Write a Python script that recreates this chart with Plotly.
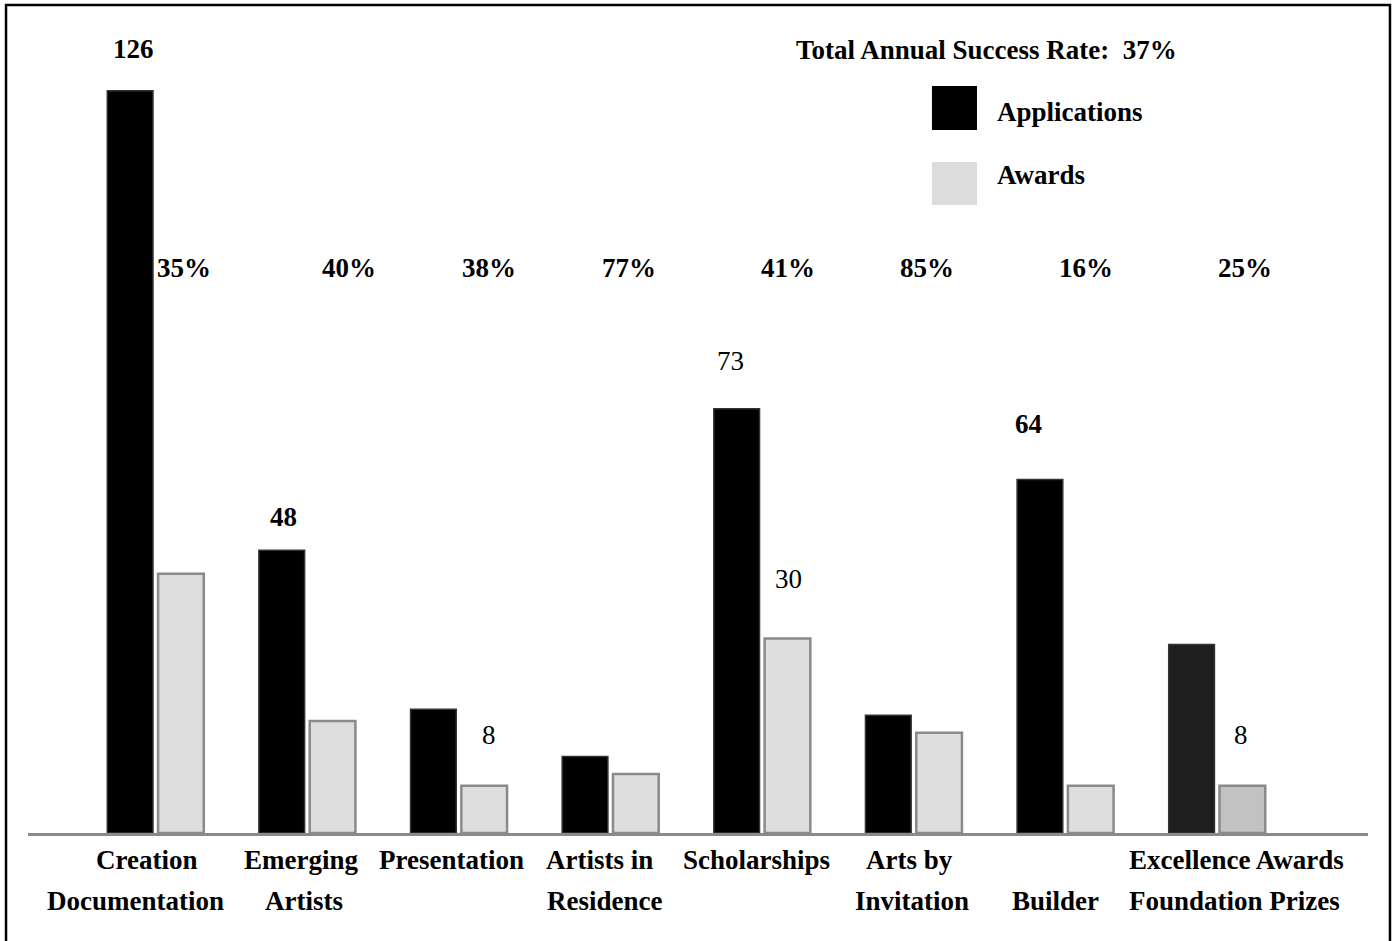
import plotly.graph_objects as go

# ---- data ----
categories = ["Creation Documentation", "Emerging Artists", "Presentation", "Artists in Residence",
              "Scholarships", "Arts by Invitation", "Builder", "Excellence Awards Foundation Prizes"]
label_line1 = ["Creation", "Emerging", "Presentation", "Artists in", "Scholarships", "Arts by", "", "Excellence Awards"]
label_line2 = ["Documentation", "Artists", "", "Residence", "", "Invitation", "Builder", "Foundation Prizes"]
applications = [126, 48, 21, 13, 72, 20, 60, 32]
awards = [44, 19, 8, 10, 33, 17, 8, 8]
success_rates = ["35%", "40%", "38%", "77%", "41%", "85%", "16%", "25%"]
count_labels = ["126", "48", "73", "64", "30", "8", "8"]
count_label_bold = [True, True, False, True, False, False, False]
total_rate = "37%"

app_colors = ["#000000"] * 7 + ["#1e1e1e"]
award_colors = ["#dedede"] * 7 + ["#c2c2c2"]

FONT = "Liberation Serif"
FS = 27

x_idx = list(range(len(categories)))

fig = go.Figure()
fig.add_trace(go.Bar(x=x_idx, y=applications, name="Applications",
                     marker=dict(color=app_colors, line=dict(color="#333333", width=1.5)),
                     showlegend=False, hoverinfo="skip"))
fig.add_trace(go.Bar(x=x_idx, y=awards, name="Awards",
                     marker=dict(color=award_colors, line=dict(color="#8a8a8a", width=2.5)),
                     showlegend=False, hoverinfo="skip"))

annotations = []
# success-rate labels (row across the chart)
rate_x = [0.188, 1.276, 2.199, 3.122, 4.171, 5.088, 6.136, 7.185]
for xi, t in zip(rate_x, success_rates):
    annotations.append(dict(x=xi, y=95.9, xref="x", yref="y", text="<b>" + t + "</b>",
                            showarrow=False, font=dict(family=FONT, size=FS, color="#000")))

# count labels above bars
count_x = [-0.142, 0.841, 3.789, 5.754, 4.171, 2.199, 7.158]
count_y = [133.1, 53.6, 80.1, 69.4, 43.1, 16.6, 16.6]
for xi, yi, t, b in zip(count_x, count_y, count_labels, count_label_bold):
    annotations.append(dict(x=xi, y=yi, xref="x", yref="y", text=("<b>%s</b>" % t) if b else t,
                            showarrow=False, font=dict(family=FONT, size=FS, color="#000")))

# category labels (two rows)
l1_x = [-0.056, 0.960, 1.949, 2.931, 3.966, 4.975, 5.938, 7.132]
l2_x = [-0.135, 0.979, 1.949, 2.964, 3.966, 4.988, 5.938, 7.113]
for xi, t in zip(l1_x, label_line1):
    if t:
        annotations.append(dict(x=xi, y=-0.033, xref="x", yref="paper", text="<b>" + t + "</b>",
                                showarrow=False, yanchor="middle",
                                font=dict(family=FONT, size=FS, color="#000")))
for xi, t in zip(l2_x, label_line2):
    if t:
        annotations.append(dict(x=xi, y=-0.084, xref="x", yref="paper", text="<b>" + t + "</b>",
                                showarrow=False, yanchor="middle",
                                font=dict(family=FONT, size=FS, color="#000")))

# title + legend
annotations.append(dict(x=0.5716, y=0.9631, xref="paper", yref="paper", xanchor="left", yanchor="middle",
                        text="<b>Total Annual Success Rate:  " + total_rate + "</b>", showarrow=False,
                        font=dict(family=FONT, size=FS, color="#000")))
annotations.append(dict(x=0.7216, y=0.8868, xref="paper", yref="paper", xanchor="left", yanchor="middle",
                        text="<b>Applications</b>", showarrow=False,
                        font=dict(family=FONT, size=FS, color="#000")))
annotations.append(dict(x=0.7216, y=0.8093, xref="paper", yref="paper", xanchor="left", yanchor="middle",
                        text="<b>Awards</b>", showarrow=False,
                        font=dict(family=FONT, size=FS, color="#000")))

shapes = [
    dict(type="rect", xref="paper", yref="paper", x0=0.6746, x1=0.7082, y0=0.8647, y1=0.9188,
         fillcolor="#000000", line=dict(width=0)),
    dict(type="rect", xref="paper", yref="paper", x0=0.6746, x1=0.7082, y0=0.7724, y1=0.8253,
         fillcolor="#dcdcdc", line=dict(width=0)),
    # frame
    dict(type="path", xref="paper", yref="paper",
         path="M -0.0164,-0.14 L -0.0164,1.0185 L 1.0164,1.0185 L 1.0164,-0.14",
         line=dict(color="#000", width=2.5)),
]

fig.update_layout(
    width=1396, height=941,
    margin=dict(l=28, r=28, t=20, b=108),
    paper_bgcolor="white", plot_bgcolor="white",
    barmode="group", bargap=0.33, bargroupgap=0.1,
    xaxis=dict(range=[-0.841, 7.996], showticklabels=False, showgrid=False, zeroline=False,
               showline=True, linecolor="#8a8a8a", linewidth=3, ticks=""),
    yaxis=dict(range=[0, 138.0], visible=False, showgrid=False, zeroline=False),
    annotations=annotations, shapes=shapes,
)

fig.write_html("out.html")
